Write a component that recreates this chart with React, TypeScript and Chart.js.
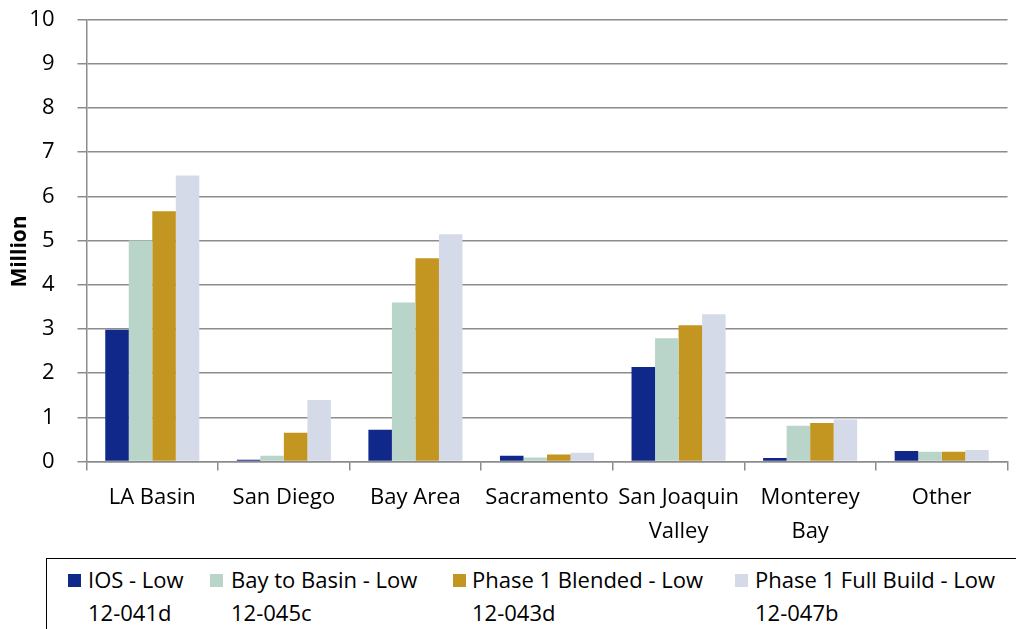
import React, { useEffect, useRef } from "react";
import { Chart, registerables } from "chart.js";

Chart.register(...registerables);

// ---- data ----
const CATEGORIES: string[][] = [
  ["LA Basin"],
  ["San Diego"],
  ["Bay Area"],
  ["Sacramento"],
  ["San Joaquin", "Valley"],
  ["Monterey", "Bay"],
  ["Other"],
];
const SERIES_NAMES = [
  "IOS - Low",
  "Bay to Basin - Low",
  "Phase 1 Blended - Low",
  "Phase 1 Full Build - Low",
];
const SERIES_CODES = ["12-041d", "12-045c", "12-043d", "12-047b"];
const IOS_LOW = [2.98, 0.04, 0.72, 0.13, 2.14, 0.08, 0.24];
const BAY_TO_BASIN_LOW = [5.0, 0.13, 3.6, 0.09, 2.79, 0.81, 0.22];
const PHASE1_BLENDED_LOW = [5.66, 0.65, 4.6, 0.16, 3.08, 0.87, 0.22];
const PHASE1_FULL_LOW = [6.47, 1.39, 5.14, 0.2, 3.33, 0.95, 0.26];
const Y_MIN = 0;
const Y_MAX = 10;
const Y_STEP = 1;
const Y_TITLE = "Million";

// ---- style ----
const COLORS = ["#10288A", "#B9D5CA", "#C39521", "#D4DAE7"];
const FONT = '"Open Sans", sans-serif';
const GRID = "#8c8c8c";
const LEGEND_SQUARE_X = [68, 210, 453, 735];
const LEGEND_TEXT_X = [88, 231, 472, 755];

const yTitlePlugin = {
  id: "yTitleCustom",
  afterDraw(chart: any) {
    const { ctx, chartArea } = chart;
    ctx.save();
    ctx.translate(20, (chartArea.top + chartArea.bottom) / 2 + 11);
    ctx.rotate(-Math.PI / 2);
    ctx.font = `bold 21px ${FONT}`;
    ctx.fillStyle = "#000";
    ctx.textAlign = "center";
    ctx.textBaseline = "middle";
    ctx.fillText(Y_TITLE, 0, 0);
    ctx.restore();
  },
};

export default function App() {
  const canvasRef = useRef<HTMLCanvasElement | null>(null);

  useEffect(() => {
    if (!canvasRef.current) return;
    const series = [IOS_LOW, BAY_TO_BASIN_LOW, PHASE1_BLENDED_LOW, PHASE1_FULL_LOW];
    const chart = new Chart(canvasRef.current, {
      type: "bar",
      data: {
        labels: CATEGORIES,
        datasets: series.map((d, i) => ({
          label: SERIES_NAMES[i],
          data: d,
          backgroundColor: COLORS[i],
          borderWidth: 0,
          categoryPercentage: 0.715,
          barPercentage: 1.0,
        })),
      },
      options: {
        animation: false,
        responsive: false,
        layout: { padding: { top: 19.5, right: 8.5, bottom: 0, left: 0 } },
        plugins: {
          legend: { display: false },
          tooltip: { enabled: false },
          title: { display: false },
        },
        scales: {
          x: {
            grid: {
              offset: true,
              drawOnChartArea: false,
              drawTicks: true,
              tickLength: 9,
              color: GRID,
              lineWidth: 1.5,
            },
            border: { display: true, color: GRID, width: 1.5 },
            ticks: {
              font: { family: FONT, size: 22, lineHeight: 1.55 },
              color: "#000",
              padding: 10,
              maxRotation: 0,
              autoSkip: false,
            },
            afterFit: (s: any) => {
              s.height = 96.5;
            },
          },
          y: {
            min: Y_MIN,
            max: Y_MAX,
            grid: {
              color: GRID,
              lineWidth: 1.5,
              tickLength: 9,
            },
            border: { display: true, color: GRID, width: 1.5 },
            ticks: {
              stepSize: Y_STEP,
              font: { family: FONT, size: 22 },
              color: "#000",
              padding: 23,
            },
            afterFit: (s: any) => {
              s.width = 86.5;
              s.paddingTop = 0;
              s.paddingBottom = 0;
            },
          },
        },
      },
      plugins: [yTitlePlugin],
    });
    return () => chart.destroy();
  }, []);

  return (
    <div
      style={{
        position: "fixed",
        left: 0,
        top: 0,
        width: 1016,
        height: 629,
        background: "#fff",
        overflow: "hidden",
        fontFamily: FONT,
      }}
    >
      <canvas
        ref={canvasRef}
        width={1016}
        height={558}
        style={{ position: "absolute", left: 0, top: 0, width: 1016, height: 558 }}
      />
      <div
        style={{
          position: "absolute",
          left: 46,
          top: 558,
          width: 1000,
          height: 100,
          border: "1.5px solid #000",
          boxSizing: "border-box",
        }}
      />
      {SERIES_NAMES.map((name, i) => (
        <React.Fragment key={name}>
          <div
            style={{
              position: "absolute",
              left: LEGEND_SQUARE_X[i],
              top: 574,
              width: 13,
              height: 13,
              background: COLORS[i],
            }}
          />
          <div
            style={{
              position: "absolute",
              left: LEGEND_TEXT_X[i],
              top: 563,
              fontSize: 22,
              lineHeight: "33px",
              color: "#000",
              whiteSpace: "nowrap",
            }}
          >
            <div>{name}</div>
            <div>{SERIES_CODES[i]}</div>
          </div>
        </React.Fragment>
      ))}
    </div>
  );
}
